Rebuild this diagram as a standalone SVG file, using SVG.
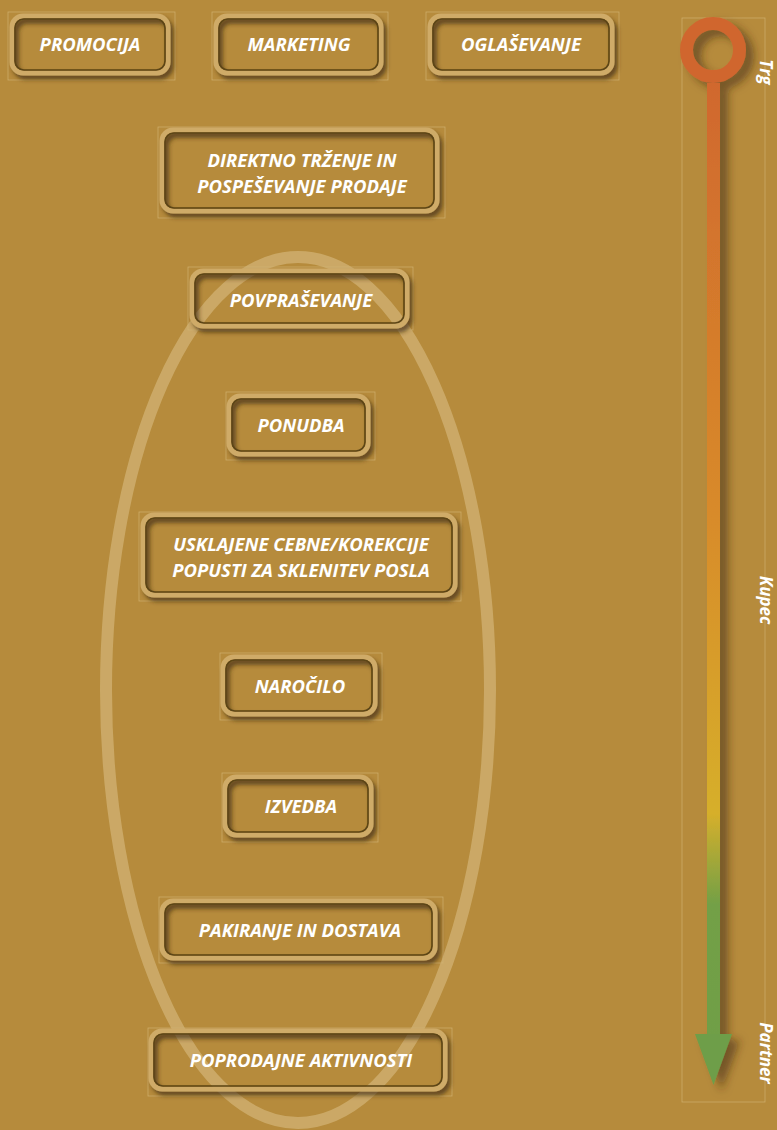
<svg xmlns="http://www.w3.org/2000/svg" width="777" height="1130" viewBox="0 0 777 1130">
<defs>
<style>
.t{font-family:"Open Sans","Liberation Sans",sans-serif;font-weight:bold;font-style:italic;font-size:18.5px;fill:#fff;text-anchor:middle}
.fr{fill:none;stroke:#D3B474;stroke-width:0.8;opacity:0.8}
.bo{fill:none;stroke:#CFAB68;stroke-width:5}
.bi{fill:none;stroke:#5C4414;stroke-width:1.6}
.lab{font-family:"Open Sans","Liberation Sans",sans-serif;font-weight:bold;font-style:italic;font-size:17px;fill:#fff;text-anchor:middle}
</style>
<filter id="sh" x="-10%" y="-20%" width="130%" height="150%">
<feDropShadow dx="3" dy="4" stdDeviation="2" flood-color="#3d2b08" flood-opacity="0.7"/>
</filter>
<filter id="sh2" x="-50%" y="-5%" width="250%" height="110%">
<feDropShadow dx="8" dy="6" stdDeviation="4" flood-color="#3d2b08" flood-opacity="0.55"/>
</filter>
<linearGradient id="ag" x1="0" y1="0" x2="0" y2="1130" gradientUnits="userSpaceOnUse">
<stop offset="0.05" stop-color="#D0662F"/>
<stop offset="0.45" stop-color="#D88A2A"/>
<stop offset="0.72" stop-color="#D6AF2B"/>
<stop offset="0.8" stop-color="#73A046"/>
<stop offset="1" stop-color="#6E9E48"/>
</linearGradient>
</defs>
<rect width="777" height="1130" fill="#B68B3C"/>

<ellipse cx="298" cy="690" rx="192" ry="433" fill="none" stroke="#D9BC82" stroke-width="12" opacity="0.6"/>

<g id="connectors">
<rect class="fr" x="682" y="18" width="83" height="1084"/>
<g filter="url(#sh2)">
<circle cx="713" cy="50" r="26.5" fill="none" stroke="#D0662F" stroke-width="13"/>
<rect x="707" y="83" width="13" height="952" fill="url(#ag)"/>
<polygon points="695,1034 732,1034 713.5,1085" fill="#6E9E48"/>
</g>
<text class="lab" transform="translate(760,72) rotate(90)">Trg</text>
<text class="lab" transform="translate(760,600) rotate(90)">Kupec</text>
<text class="lab" transform="translate(760,1053) rotate(90)">Partner</text>
</g>

<g id="n1"><rect class="fr" x="8" y="12" width="167" height="68"/><g filter="url(#sh)"><rect class="bo" x="12" y="16" width="156" height="57" rx="11"/><rect class="bi" x="15" y="19" width="150" height="51" rx="9"/></g><text class="t" x="90" y="51">PROMOCIJA</text></g>
<g id="n2"><rect class="fr" x="212" y="12" width="176" height="68"/><g filter="url(#sh)"><rect class="bo" x="216" y="16" width="165" height="57" rx="11"/><rect class="bi" x="219" y="19" width="159" height="51" rx="9"/></g><text class="t" x="299" y="51">MARKETING</text></g>
<g id="n3"><rect class="fr" x="426" y="12" width="193" height="68"/><g filter="url(#sh)"><rect class="bo" x="430" y="16" width="182" height="57" rx="11"/><rect class="bi" x="433" y="19" width="176" height="51" rx="9"/></g><text class="t" x="521" y="51">OGLAŠEVANJE</text></g>
<g id="n4"><rect class="fr" x="158" y="127" width="287" height="91"/><g filter="url(#sh)"><rect class="bo" x="162" y="130" width="275" height="81" rx="11"/><rect class="bi" x="165" y="133" width="269" height="75" rx="9"/></g><text class="t" x="302" y="167">DIREKTNO TRŽENJE IN</text><text class="t" x="302" y="193">POSPEŠEVANJE PRODAJE</text></g>
<g id="n5"><rect class="fr" x="188" y="267" width="225" height="63"/><g filter="url(#sh)"><rect class="bo" x="192" y="271" width="215" height="55" rx="11"/><rect class="bi" x="195" y="274" width="209" height="49" rx="9"/></g><text class="t" x="301" y="307">POVPRAŠEVANJE</text></g>
<g id="n6"><rect class="fr" x="226" y="392" width="149" height="68"/><g filter="url(#sh)"><rect class="bo" x="229" y="396" width="139" height="58" rx="11"/><rect class="bi" x="232" y="399" width="133" height="52" rx="9"/></g><text class="t" x="301" y="432">PONUDBA</text></g>
<g id="n7"><rect class="fr" x="139" y="512" width="322" height="89"/><g filter="url(#sh)"><rect class="bo" x="143" y="515" width="312" height="80" rx="11"/><rect class="bi" x="146" y="518" width="306" height="74" rx="9"/></g><text class="t" x="301" y="551">USKLAJENE CEBNE/KOREKCIJE</text><text class="t" x="301" y="577">POPUSTI ZA SKLENITEV POSLA</text></g>
<g id="n8"><rect class="fr" x="220" y="653" width="162" height="67"/><g filter="url(#sh)"><rect class="bo" x="223" y="657" width="152" height="57" rx="11"/><rect class="bi" x="226" y="660" width="146" height="51" rx="9"/></g><text class="t" x="300" y="693">NAROČILO</text></g>
<g id="n9"><rect class="fr" x="222" y="773" width="156" height="69"/><g filter="url(#sh)"><rect class="bo" x="225" y="777" width="146" height="58" rx="11"/><rect class="bi" x="228" y="780" width="140" height="52" rx="9"/></g><text class="t" x="301" y="813">IZVEDBA</text></g>
<g id="n10"><rect class="fr" x="159" y="897" width="284" height="66"/><g filter="url(#sh)"><rect class="bo" x="162" y="901" width="273" height="57" rx="11"/><rect class="bi" x="165" y="904" width="267" height="51" rx="9"/></g><text class="t" x="300" y="937">PAKIRANJE IN DOSTAVA</text></g>
<g id="n11"><rect class="fr" x="148" y="1028" width="304" height="68"/><g filter="url(#sh)"><rect class="bo" x="151" y="1031" width="294" height="58" rx="11"/><rect class="bi" x="154" y="1034" width="288" height="52" rx="9"/></g><text class="t" x="301" y="1067">POPRODAJNE AKTIVNOSTI</text></g>
</svg>
